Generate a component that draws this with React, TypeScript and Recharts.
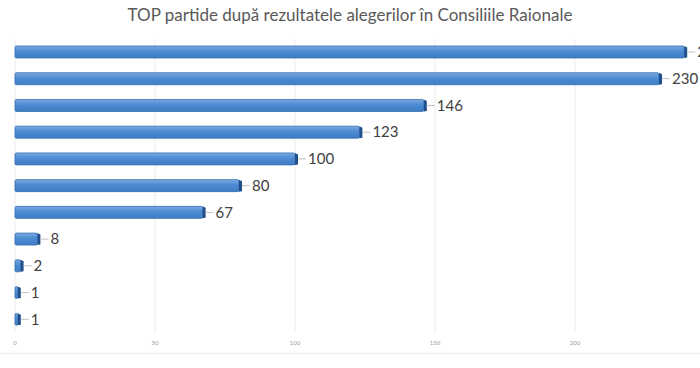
import React from "react";
import { BarChart, Bar, XAxis, YAxis, CartesianGrid, LabelList } from "recharts";

const parties = [
  "Partid 1",
  "Partid 2",
  "Partid 3",
  "Partid 4",
  "Partid 5",
  "Partid 6",
  "Partid 7",
  "Partid 8",
  "Partid 9",
  "Partid 10",
  "Partid 11",
];
const mandates = [239, 230, 146, 123, 100, 80, 67, 8, 2, 1, 1];
const xTicks = [0, 50, 100, 150, 200];

const data = parties.map((p, i) => ({ party: p, value: mandates[i] }));

function Bar3D(props: any) {
  const { x, y, width, height } = props;
  if (width == null || width <= 0) return null;
  const d = 3;
  const w = Math.max(width, 2);
  return (
    <g>
      <rect x={x} y={y} width={w} height={height} fill="url(#barGrad)" stroke="#3670b3" strokeWidth={0.8} rx={1.5} />
      <polygon
        points={`${x + w},${y} ${x + w + d},${y + 1.5} ${x + w + d},${y + height - 0.5} ${x + w},${y + height}`}
        fill="#1f4f8c"
      />
    </g>
  );
}

function ValueLabel(props: any) {
  const { x, y, width, height, value } = props;
  const end = x + Math.max(width, 2) + 3;
  const cy = y + height / 2;
  return (
    <g>
      <line x1={end} y1={cy} x2={end + 8} y2={cy} stroke="#bfbfbf" strokeWidth={1} />
      <text x={end + 10} y={cy} dy="0.35em" fontSize={15} fill="#404040" fontFamily="Lato, sans-serif">
        {value}
      </text>
    </g>
  );
}

export default function App() {
  return (
    <div
      style={{
        position: "fixed",
        left: 0,
        top: 0,
        width: 700,
        height: 368,
        overflow: "hidden",
        background: "#fff",
      }}
    >
      <svg width={0} height={0} style={{ position: "absolute" }}>
        <defs>
          <linearGradient id="barGrad" x1="0" y1="0" x2="0" y2="1">
            <stop offset="0%" stopColor="#7aa9e0" />
            <stop offset="45%" stopColor="#4d8bd2" />
            <stop offset="100%" stopColor="#3e7cc4" />
          </linearGradient>
        </defs>
      </svg>
      <div
        style={{
          position: "absolute",
          top: 4,
          left: 0,
          width: 700,
          textAlign: "center",
          fontFamily: "Lato, sans-serif",
          fontSize: 17,
          color: "#595959",
        }}
      >
        TOP partide după rezultatele alegerilor în Consiliile Raionale
      </div>
      <div style={{ position: "absolute", left: 0, top: 353, width: 700, borderTop: "1px solid #eeeeee" }} />
      <div style={{ position: "absolute", left: 0, top: 0 }}>
        <BarChart
          width={760}
          height={368}
          data={data}
          layout="vertical"
          margin={{ top: 39, right: 45, bottom: 0, left: 15 }}
          barSize={12}
        >
          <CartesianGrid horizontal={false} stroke="#ebebeb" />
          <XAxis
            type="number"
            domain={[0, 250]}
            ticks={xTicks}
            height={35}
            tickLine={false}
            axisLine={false}
            tick={{ fontSize: 6, fill: "#9a9a9a", fontFamily: "Lato, sans-serif" }}
          />
          <YAxis type="category" dataKey="party" hide />
          <Bar dataKey="value" shape={<Bar3D />} isAnimationActive={false}>
            <LabelList dataKey="value" content={<ValueLabel />} />
          </Bar>
        </BarChart>
      </div>
    </div>
  );
}
